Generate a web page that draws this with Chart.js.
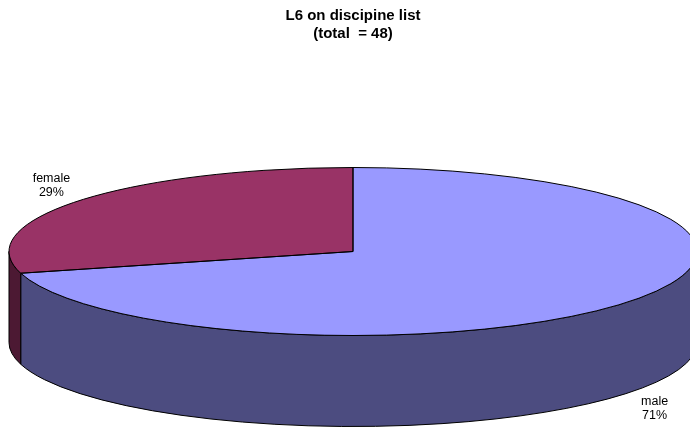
<!DOCTYPE html>
<html>
<head>
<meta charset="utf-8">
<title>L6 on discipine list</title>
<script src="https://cdn.jsdelivr.net/npm/chart.js@4.4.1/dist/chart.umd.min.js"></script>
<style>
  html, body { margin: 0; padding: 0; background: #fff; }
  #grafico { display: block; }
</style>
</head>
<body>
<canvas id="grafico" width="690" height="427"></canvas>
<script>
// Dados do gráfico
const categorias = ['male', 'female'];
const contagens = [34, 14];
const coresTopo = ['#9999FF', '#993366'];
const coresLado = ['#4C4C80', '#4C1933'];
const total = contagens.reduce((a, b) => a + b, 0);

const FONTE = '"Liberation Sans", Arial, Helvetica, sans-serif';

// Geometria da pizza inclinada (elipse do topo + espessura)
const geo = { cx: 353, cy: 251.5, rx: 344, ry: 84, prof: 91 };

// Caminho da parede lateral entre dois ângulos
function caminhoLateral(ctx, a0, a1) {
  ctx.beginPath();
  ctx.ellipse(geo.cx, geo.cy, geo.rx, geo.ry, 0, a0, a1);
  ctx.ellipse(geo.cx, geo.cy + geo.prof, geo.rx, geo.ry, 0, a1, a0, true);
  ctx.closePath();
}

// Plugin que desenha a pizza em "3D" a partir dos arcos do Chart.js
const pizza3d = {
  id: 'pizza3d',
  beforeDatasetsDraw(chart) {
    const ctx = chart.ctx;
    const arcos = chart.getDatasetMeta(0).data;

    // Paredes laterais (só a metade da frente aparece)
    ctx.save();
    ctx.lineWidth = 1;
    ctx.strokeStyle = '#000';
    arcos.forEach((arco, i) => {
      const { startAngle, endAngle } = arco.getProps(['startAngle', 'endAngle'], true);
      for (let k = -1; k <= 1; k++) {
        const lo = Math.max(startAngle, 2 * Math.PI * k);
        const hi = Math.min(endAngle, 2 * Math.PI * k + Math.PI);
        if (hi > lo) {
          caminhoLateral(ctx, lo, hi);
          ctx.fillStyle = coresLado[i];
          ctx.fill();
          ctx.stroke();
        }
      }
    });
    ctx.restore();

    // Achata o círculo do Chart.js na elipse do topo
    const { x, y, outerRadius } = arcos[0].getProps(['x', 'y', 'outerRadius'], true);
    ctx.save();
    ctx.translate(geo.cx, geo.cy);
    ctx.scale(geo.rx / outerRadius, geo.ry / outerRadius);
    ctx.translate(-x, -y);
  },
  afterDatasetsDraw(chart) {
    const ctx = chart.ctx;
    ctx.restore();
    const arcos = chart.getDatasetMeta(0).data;

    // Contorno das fatias do topo
    ctx.save();
    ctx.lineWidth = 1;
    ctx.strokeStyle = '#000';
    arcos.forEach(arco => {
      const { startAngle, endAngle } = arco.getProps(['startAngle', 'endAngle'], true);
      ctx.beginPath();
      ctx.moveTo(geo.cx, geo.cy);
      ctx.ellipse(geo.cx, geo.cy, geo.rx, geo.ry, 0, startAngle, endAngle);
      ctx.closePath();
      ctx.stroke();
    });

    // Rótulos: categoria e percentual
    ctx.fillStyle = '#000';
    ctx.font = '12.5px ' + FONTE;
    ctx.textAlign = 'center';
    ctx.textBaseline = 'middle';
    arcos.forEach((arco, i) => {
      const { startAngle, endAngle } = arco.getProps(['startAngle', 'endAngle'], true);
      const meio = (startAngle + endAngle) / 2;
      const s = Math.sin(meio);
      const lx = geo.cx + geo.rx * 1.105 * Math.cos(meio);
      const ly = geo.cy + geo.ry * 1.29 * s + (s > 0 ? geo.prof : 0);
      const pct = Math.round(contagens[i] / total * 100) + '%';
      ctx.fillText(categorias[i], lx, ly - 7);
      ctx.fillText(pct, lx, ly + 7);
    });
    ctx.restore();
  }
};

const ctx = document.getElementById('grafico').getContext('2d');
const chart = new Chart(ctx, {
  type: 'pie',
  data: {
    labels: categorias,
    datasets: [{
      data: contagens,
      backgroundColor: coresTopo,
      borderWidth: 0,
      clip: false
    }]
  },
  options: {
    responsive: false,
    animation: false,
    events: [],
    layout: { padding: { left: 16 } },
    plugins: {
      legend: { display: false },
      tooltip: { enabled: false },
      title: {
        display: true,
        text: ['L6 on discipine list', `(total  = ${total})`],
        color: '#000',
        font: { family: FONTE, size: 15, weight: 'bold', lineHeight: 1.2 },
        padding: { top: 7, bottom: 10 }
      }
    }
  },
  plugins: [pizza3d]
});
</script>
</body>
</html>
